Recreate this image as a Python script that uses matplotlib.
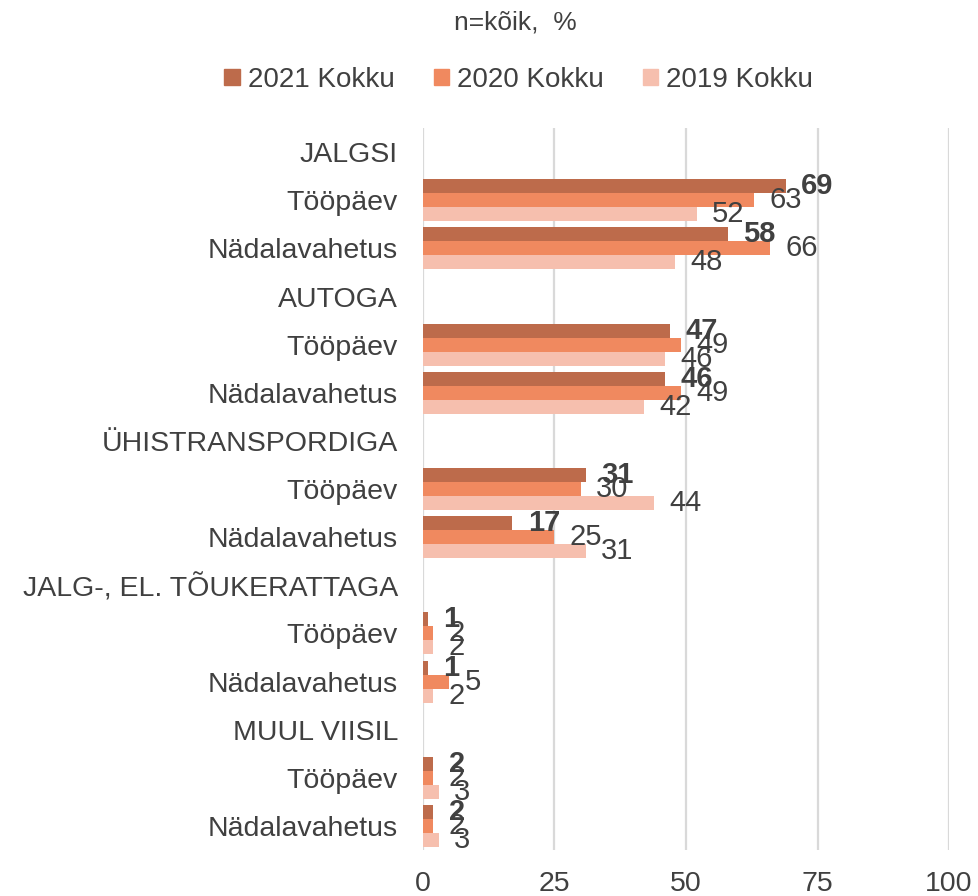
import numpy as np
import matplotlib.pyplot as plt
from matplotlib.patches import Patch

plt.rcParams['font.family'] = ['Liberation Sans', 'DejaVu Sans']

# ridade nimed (pealkirjad + alamread)
rows = ['JALGSI', 'Tööpäev', 'Nädalavahetus',
        'AUTOGA', 'Tööpäev', 'Nädalavahetus',
        'ÜHISTRANSPORDIGA', 'Tööpäev', 'Nädalavahetus',
        'JALG-, EL. TÕUKERATTAGA', 'Tööpäev', 'Nädalavahetus',
        'MUUL VIISIL', 'Tööpäev', 'Nädalavahetus']

series = ['2021 Kokku', '2020 Kokku', '2019 Kokku']
# väärtused alamridade kaupa (pealkirjaridadel andmeid pole)
v2021 = [69, 58, 47, 46, 31, 17, 1, 1, 2, 2]
v2020 = [63, 66, 49, 49, 30, 25, 2, 5, 2, 2]
v2019 = [52, 48, 46, 42, 44, 31, 2, 2, 3, 3]

colors = ['#BD6B4B', '#F0895F', '#F6BFAE']
txt = '#404040'

fig = plt.figure(figsize=(9.79, 8.96), dpi=100)
ax = fig.add_axes([0.432, 0.0513, 0.5374, 0.8058])

pos = np.array([i for i, r in enumerate(rows) if i % 3 != 0])
h = 0.29
for k, (vals, c) in enumerate(zip([v2021, v2020, v2019], colors)):
    y = pos + (k - 1) * h
    ax.barh(y, vals, height=h, color=c, zorder=2)
    for yy, v in zip(y, vals):
        ax.annotate(str(v), (v, yy), xytext=(11, 0), textcoords='offset points',
                    ha='left', va='center', fontsize=21, color=txt,
                    fontweight='bold' if k == 0 else 'normal', zorder=3)

ax.set_xlim(0, 100)
ax.set_ylim(len(rows) - 0.5, -0.5)
ax.set_xticks([0, 25, 50, 75, 100])
ax.set_yticks(range(len(rows)))
ax.set_yticklabels(rows)
ax.tick_params(axis='y', length=0, pad=18, labelsize=20.5, labelcolor=txt)
ax.tick_params(axis='x', length=0, pad=15, labelsize=20.5, labelcolor=txt)
ax.grid(axis='x', color='#D9D9D9', linewidth=1.6, zorder=0)
for s in ax.spines.values():
    s.set_visible(False)

fig.text(0.526, 0.975, 'n=kõik,  %', ha='center', va='center', fontsize=19, color=txt)

handles = [Patch(color=c) for c in colors]
fig.legend(handles, series, loc='center', bbox_to_anchor=(0.53, 0.911), ncol=3,
           frameon=False, fontsize=20, handlelength=0.55, handleheight=0.55,
           handletextpad=0.3, columnspacing=1.4, labelcolor=txt)

fig.savefig('out.png', dpi=100)
